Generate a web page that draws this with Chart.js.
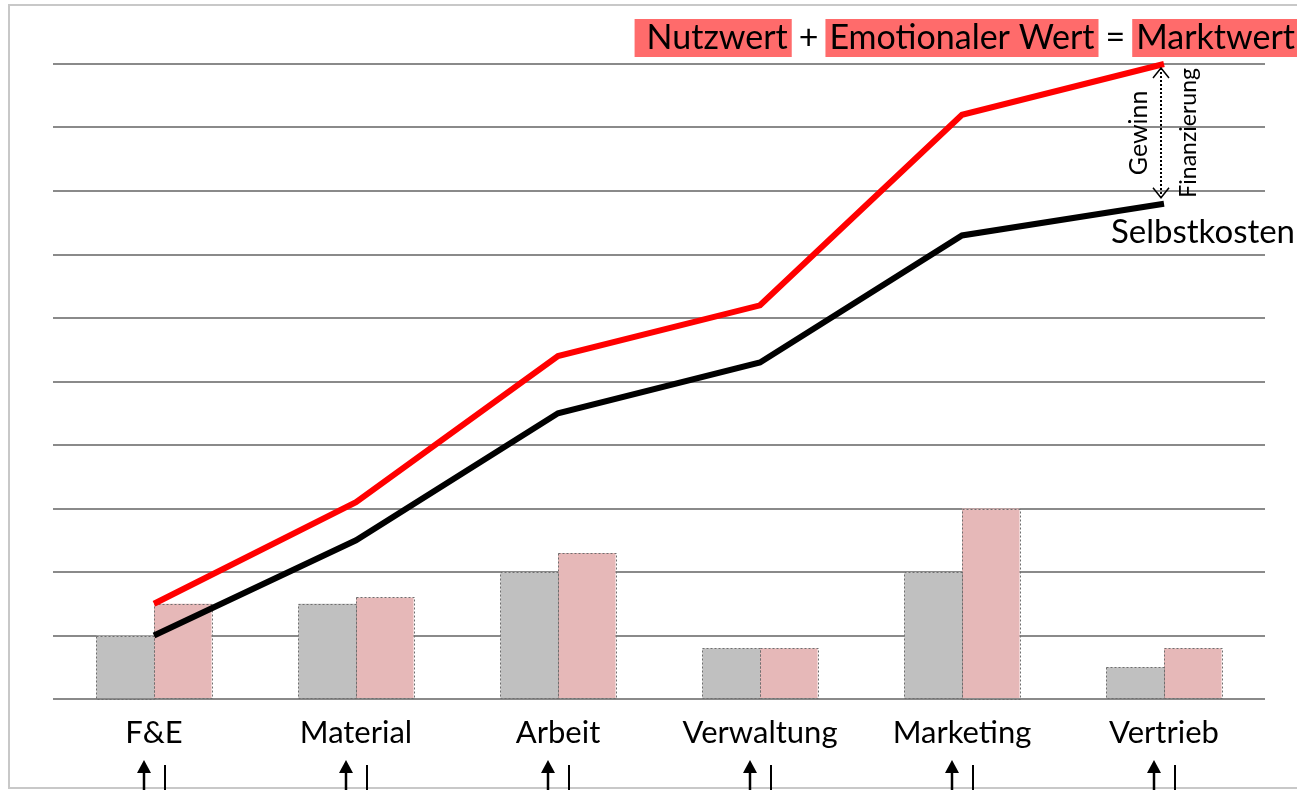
<!DOCTYPE html>
<html>
<head>
<meta charset="utf-8">
<script src="https://cdn.jsdelivr.net/npm/chart.js@4/dist/chart.umd.min.js"></script>
<style>
html,body{margin:0;padding:0;background:#fff;}
canvas{display:block;}
</style>
</head>
<body>
<canvas id="c" width="1297" height="790"></canvas>
<script>
const categories = ['F&E', 'Material', 'Arbeit', 'Verwaltung', 'Marketing', 'Vertrieb'];
const selbstkostenBars = [1, 1.5, 2, 0.8, 2, 0.5];
const marktwertBars = [1.5, 1.6, 2.3, 0.8, 3, 0.8];
const selbstkostenLine = [1, 2.5, 4.5, 5.3, 7.3, 7.8];
const marktwertLine = [1.5, 3.1, 5.4, 6.2, 9.2, 10];
const titleParts = [
  {text: 'Nutzwert', box: true},
  {text: '+', box: false},
  {text: 'Emotionaler Wert', box: true},
  {text: '=', box: false},
  {text: 'Marktwert', box: true}
];
const FONT = 'Lato, "Open Sans", sans-serif';

const barBorders = {
  id: 'barBorders',
  afterDatasetDraw(chart, args) {
    const meta = args.meta;
    if (meta.type !== 'bar') return;
    const ctx = chart.ctx;
    ctx.save();
    ctx.setLineDash([2, 2]);
    ctx.strokeStyle = '#6f6f6f';
    ctx.lineWidth = 1;
    meta.data.forEach(el => {
      const p = el.getProps(['x', 'y', 'base', 'width'], true);
      ctx.strokeRect(Math.round(p.x - p.width / 2) + 0.5, Math.round(p.y) + 0.5, Math.round(p.width), Math.round(p.base - p.y));
    });
    ctx.restore();
  }
};

const decorations = {
  id: 'decorations',
  beforeDraw(chart) {
    const ctx = chart.ctx;
    ctx.save();
    ctx.strokeStyle = '#c8c8c8';
    ctx.lineWidth = 2;
    ctx.beginPath();
    ctx.moveTo(chart.width, 5); ctx.lineTo(9, 5); ctx.lineTo(9, 788); ctx.lineTo(chart.width, 788);
    ctx.stroke();
    ctx.restore();
  },
  afterDraw(chart) {
    const ctx = chart.ctx;
    ctx.save();
    // Title
    ctx.font = '34px ' + FONT;
    ctx.textBaseline = 'alphabetic';
    const pad = 4, gap = 7;
    let x = chart.width + 2;
    const parts = titleParts.slice().reverse();
    const pos = [];
    parts.forEach((p, k) => {
      const w = ctx.measureText(p.text).width;
      const lp = (k === parts.length - 1) ? 12 : pad;
      const bw = p.box ? w + lp + pad : w;
      x -= bw;
      pos.push({p, x, bw, w, lp});
      x -= gap;
    });
    pos.forEach(o => {
      if (o.p.box) {
        ctx.fillStyle = '#ff6b6b';
        ctx.fillRect(o.x, 19, o.bw, 38);
        ctx.fillStyle = '#000';
        ctx.fillText(o.p.text, o.x + o.lp, 49);
      } else {
        ctx.fillStyle = '#000';
        ctx.fillText(o.p.text, o.x, 49);
      }
    });

    const redMeta = chart.getDatasetMeta(3);
    const blackMeta = chart.getDatasetMeta(2);
    const rEnd = redMeta.data[redMeta.data.length - 1];
    const bEnd = blackMeta.data[blackMeta.data.length - 1];

    // Selbstkosten label
    ctx.font = '33px ' + FONT;
    ctx.textAlign = 'right';
    ctx.fillStyle = '#000';
    ctx.fillText('Selbstkosten', chart.width - 2, bEnd.y + 39);

    // dotted double arrow
    const ax = rEnd.x - 3;
    const y1 = rEnd.y + 4, y2 = bEnd.y - 6;
    ctx.strokeStyle = '#000';
    ctx.lineWidth = 2;
    ctx.setLineDash([2, 2]);
    ctx.beginPath(); ctx.moveTo(ax, y1); ctx.lineTo(ax, y2); ctx.stroke();
    ctx.setLineDash([]);
    ctx.lineWidth = 1.5;
    ctx.beginPath();
    ctx.moveTo(ax - 8, y1 + 10); ctx.lineTo(ax, y1); ctx.lineTo(ax + 8, y1 + 10);
    ctx.moveTo(ax - 8, y2 - 10); ctx.lineTo(ax, y2); ctx.lineTo(ax + 8, y2 - 10);
    ctx.stroke();

    // rotated texts
    const midY = (y1 + y2) / 2;
    ctx.textAlign = 'center';
    ctx.textBaseline = 'middle';
    ctx.font = '25px ' + FONT;
    ctx.save(); ctx.translate(ax - 22, midY); ctx.rotate(-Math.PI / 2); ctx.fillText('Gewinn', 0, 0); ctx.restore();
    ctx.font = '23px ' + FONT;
    ctx.save(); ctx.translate(ax + 28, midY); ctx.rotate(-Math.PI / 2); ctx.fillText('Finanzierung', 0, 0); ctx.restore();

    // arrows under category labels
    const xs = chart.scales.x;
    categories.forEach((c, i) => {
      const cx = xs.getPixelForTick(i);
      const axx = cx - 10, bx = cx + 11;
      ctx.fillStyle = '#000';
      ctx.strokeStyle = '#000';
      ctx.lineWidth = 2.5;
      ctx.beginPath(); ctx.moveTo(axx, 790); ctx.lineTo(axx, 770); ctx.stroke();
      ctx.beginPath(); ctx.moveTo(axx - 7, 773); ctx.lineTo(axx, 760); ctx.lineTo(axx + 7, 773); ctx.closePath(); ctx.fill();
      ctx.lineWidth = 2;
      ctx.beginPath(); ctx.moveTo(bx, 765); ctx.lineTo(bx, 790); ctx.stroke();
    });
    ctx.restore();
  }
};

new Chart(document.getElementById('c'), {
  type: 'bar',
  data: {
    labels: categories,
    datasets: [
      {type: 'bar', label: 'Selbstkosten', data: selbstkostenBars, backgroundColor: '#c0c0c0', borderWidth: 0, order: 2, categoryPercentage: 0.57, barPercentage: 1.0},
      {type: 'bar', label: 'Marktwert', data: marktwertBars, backgroundColor: '#e6b8b8', borderWidth: 0, order: 2, categoryPercentage: 0.57, barPercentage: 1.0},
      {type: 'line', label: 'Selbstkosten kumuliert', data: selbstkostenLine, borderColor: '#000', borderWidth: 6, pointRadius: 0, tension: 0, order: 1, clip: false, borderJoinStyle: 'miter'},
      {type: 'line', label: 'Marktwert kumuliert', data: marktwertLine, borderColor: '#ff0000', borderWidth: 6, pointRadius: 0, tension: 0, order: 0, clip: false, borderJoinStyle: 'miter'}
    ]
  },
  options: {
    responsive: false,
    animation: false,
    devicePixelRatio: 1,
    layout: {padding: {left: 53, right: 32, top: 64, bottom: 0}},
    plugins: {legend: {display: false}, tooltip: {enabled: false}},
    scales: {
      x: {
        grid: {display: false, drawTicks: false},
        border: {display: false},
        ticks: {color: '#000', font: {family: FONT, size: 31}, padding: 15},
        afterFit(s) { s.height = 91; }
      },
      y: {
        min: 0, max: 10,
        ticks: {display: false, stepSize: 1},
        grid: {color: '#8a8a8a', lineWidth: 2, drawTicks: false},
        border: {display: false},
        afterFit(s) { s.width = 0; }
      }
    }
  },
  plugins: [barBorders, decorations]
});
</script>
</body>
</html>
